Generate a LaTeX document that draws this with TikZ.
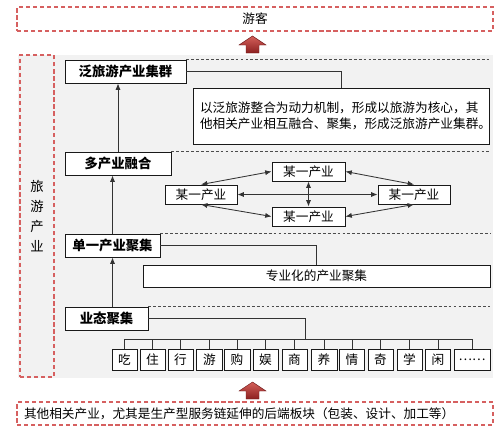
\documentclass[tikz,border=0pt]{standalone}
\usepackage{fontspec}
\setmainfont{Noto Sans CJK SC}
\usetikzlibrary{arrows.meta}
\definecolor{dashred}{RGB}{214,96,96}
\definecolor{panelgray}{RGB}{242,242,242}
\definecolor{arrowtop}{RGB}{212,96,90}
\definecolor{arrowbot}{RGB}{140,32,32}
\def\pw{0.025cm}

\begin{document}
\begin{tikzpicture}[>={Latex[length=4.5pt,width=3.6pt]},x=\pw,y=-\pw,
  wh/.style 2 args={minimum width=#1*\pw,minimum height=#2*\pw},
  box/.style={draw=black!90,fill=white,line width=0.65pt,inner sep=0pt,font=\fontsize{9}{11}\selectfont},
  stage/.style={box,font=\fontsize{9.5}{11}\selectfont\bfseries},
  redbox/.style={draw=dashred,line width=0.8pt,dash pattern=on 3pt off 2pt,inner sep=0pt,font=\fontsize{9}{11}\selectfont},
  sep/.style={draw=black!70,line width=0.5pt,dash pattern=on 2pt off 1.5pt},
  link/.style={draw=black!80,line width=0.6pt},
  blockarrow/.style={top color=arrowtop,bottom color=arrowbot,draw=arrowbot!80!black,line width=0.3pt}]

\useasboundingbox (0,0) rectangle (500,434);

% panel and the outer red boxes
\fill[panelgray] (18,55) rectangle (493,378);
\node[redbox,wh={476}{24}] (guest) at (255,19) {游客};
\node[redbox,wh={34}{322},align=center,font=\fontsize{9.5}{14.2}\selectfont] (side) at (37,216)
  {旅\\游\\产\\业};
\node[redbox,wh={476}{23},text width=462*\pw,inner xsep=7*\pw,align=left] (base) at (255,413.5)
  {其他相关产业，尤其是生产型服务链延伸的后端板块（包装、设计、加工等）};

\foreach \y in {36,382}{
  \shade[blockarrow] (252.5,\y) -- ++(13.5,9) -- ++(-7,0) -- ++(0,8) -- ++(-13,0)
    -- ++(0,-8) -- ++(-7,0) -- cycle;
}

% stages
\node[stage,wh={121}{23}] (s1) at (125.5,71.5) {泛旅游产业集群};
\node[stage,wh={106}{23}] (s2) at (118,163.5) {多产业融合};
\node[stage,wh={95}{23}] (s3) at (112.5,245.5) {单一产业聚集};
\node[stage,wh={83}{23}] (s4) at (106.5,318.5) {业态聚集};

\node[box,wh={296}{56},text width=282*\pw,inner xsep=7*\pw,align=left] (desc) at (341,116)
  {以泛旅游整合为动力机制，形成以旅游为核心，其\\他相关产业相互融合、聚集，形成泛旅游产业集群。};
\node[box,wh={347}{22}] (spec) at (316.5,276) {专业化的产业聚集};

\draw[sep] (s1.north east) -- (s1.north east -| desc.east);
\draw[sep] (s2.north east) -- (s2.north east -| desc.east);
\draw[sep] (s3.north east) -- (s3.north east -| spec.east);
\draw[sep] (s4.north east) -- (s4.north east -| spec.east);

\draw[link,->] (s2.north) -- (s2.north |- s1.south);
\draw[link,->] (s3.north) -- (s3.north |- s2.south);
\draw[link,->] (s3.south |- s4.north) -- (s3.south);
\draw[link] (s1.east) -| (desc.north);
\draw[link] (s3.east) -| (spec.north);

% industries
\node[box,wh={73}{19}] (itop) at (308.5,171.5) {某一产业};
\node[box,wh={72}{19}] (ileft) at (201,194.5) {某一产业};
\node[box,wh={72}{19}] (iright) at (414,194.5) {某一产业};
\node[box,wh={73}{19}] (ibot) at (308.5,216.5) {某一产业};
\draw[link,<->] (ileft.north) -- (itop.west);
\draw[link,<->] (itop.east) -- (iright.north);
\draw[link,<->] (ileft.east) -- (iright.west);
\draw[link,<->] (itop.south) -- (ibot.north);
\draw[link,<->] (ileft.south) -- (ibot.west);
\draw[link,<->] (iright.south) -- (ibot.east);

% formats
\coordinate (bus) at (305,339);
\draw[link] (s4.east) -| (bus);
\foreach \t/\c/\w [count=\i] in {吃/124.5/25,住/152.5/25,行/180.5/25,游/209.5/26,购/237/26,
    娱/265.5/25,商/294.5/25,养/324/26,情/352/25,奇/380.5/25,学/409.5/25,闲/438/25,……/472/36}{
  \node[box,wh={\w}{21}] (f\i) at (\c,359.5) {\t};
  \draw[link] (f\i.north) |- (bus);
}

\end{tikzpicture}
\end{document}
